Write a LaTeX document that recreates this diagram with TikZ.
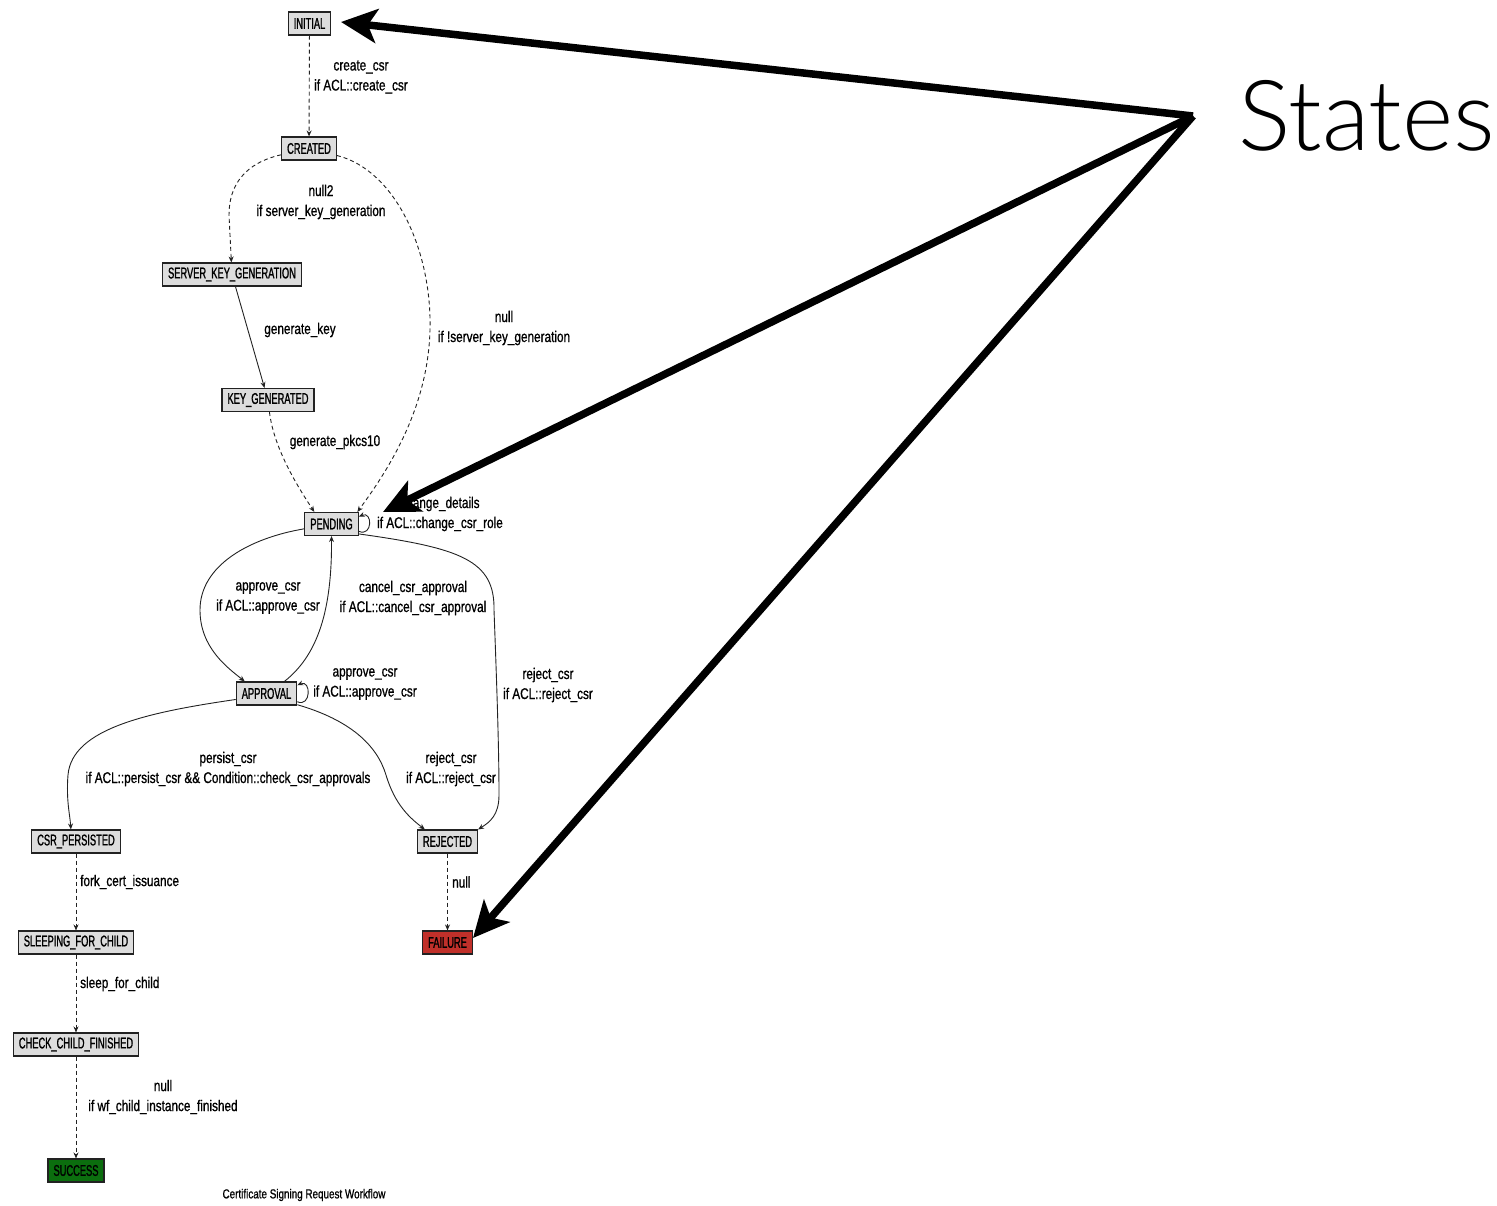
\documentclass[tikz,border=0pt]{standalone}
\usepackage{fontspec}
\setmainfont{Liberation Sans}
\newfontfamily\statefont{Liberation Sans}[FakeStretch=0.6, FakeBold=1.2]
\newfontfamily\edgefont{Liberation Sans}[FakeStretch=0.76, FakeBold=0.9]
\newfontfamily\bigfont{Lato Light}
\usetikzlibrary{arrows.meta}

\definecolor{statefill}{HTML}{DDDDDD}
\definecolor{failred}{HTML}{C0302A}
\definecolor{okgreen}{HTML}{0B6E0E}
\definecolor{inkgray}{HTML}{222222}

\tikzset{
  wfstate/.style={draw=inkgray, fill=statefill, line width=1.1pt,
    minimum height=23pt, inner xsep=5.5pt, inner ysep=0pt,
    font=\statefont\fontsize{15.5}{18}\selectfont, text=black},
  edgelabel/.style={align=center, inner sep=0pt, text=black,
    font=\edgefont\fontsize{15.5}{20}\selectfont},
  tr/.style={-{Stealth[length=6pt,width=5pt]}, line width=0.9pt, draw=inkgray},
  dashtr/.style={tr, dash pattern=on 4pt off 3pt},
  pointer/.style={line width=7.5pt, draw=black,
    -{Stealth[length=36pt,width=34pt,inset=9pt]}}
}

\begin{document}
\begin{tikzpicture}[x=1pt, y=-1pt]
\useasboundingbox (0,0) rectangle (1497,1206);

% workflow states
\node[wfstate] (initial)    at (309.5,23.5)  {INITIAL};
\node[wfstate] (created)    at (309,148.5)   {CREATED};
\node[wfstate] (skg)        at (232,274.5)   {SERVER\_KEY\_GENERATION};
\node[wfstate] (keygen)     at (268,400)     {KEY\_GENERATED};
\node[wfstate] (pending)    at (331.5,524)   {PENDING};
\node[wfstate] (approval)   at (266.5,693.5) {APPROVAL};
\node[wfstate] (persisted)  at (76,841.5)    {CSR\_PERSISTED};
\node[wfstate] (rejected)   at (447.5,841.5) {REJECTED};
\node[wfstate] (sleeping)   at (76,942.5)    {SLEEPING\_FOR\_CHILD};
\node[wfstate, fill=failred] (failure) at (447.5,942.5) {FAILURE};
\node[wfstate] (checkchild) at (76,1044.5)   {CHECK\_CHILD\_FINISHED};
\node[wfstate, fill=okgreen] (success) at (76,1170.5) {SUCCESS};

% transitions
\draw[dashtr] (initial) -- (created);
\draw[dashtr] (created) .. controls (245,163) and (229,185) .. (229,215) -- (skg);
\draw[dashtr] (created) .. controls (395,170) and (432,250) .. (430,330)
               .. controls (428,405) and (392,465) .. (pending.25);
\draw[tr] (skg) -- (keygen);
\draw[dashtr] (keygen) .. controls (274,450) and (300,490) .. (pending.145);
\draw[tr] (pending.-15) .. controls +(14,6) and +(14,-6) .. (pending.15);
\draw[tr] (pending.190) .. controls (250,538) and (200,565) .. (200,610)
           .. controls (200,648) and (228,668) .. (approval.151);
\draw[tr] (approval.34) .. controls (318,655) and (332,610) .. (pending.south);
\draw[tr] (pending.-20) .. controls (460,548) and (495,560) .. (494,610)
           .. controls (497,690) and (499,750) .. (499,795)
           .. controls (499,815) and (490,822) .. (rejected.north east);
\draw[tr] (approval.-15) .. controls +(14,6) and +(14,-6) .. (approval.15);
\draw[tr] (approval.191) .. controls (150,712) and (72,728) .. (68,775)
           .. controls (66,800) and (70,815) .. (persisted.113);
\draw[tr] (approval.-20) .. controls (350,720) and (377,745) .. (386,775)
           .. controls (395,805) and (410,818) .. (rejected.152);
\draw[dashtr] (persisted) -- (sleeping);
\draw[dashtr] (rejected) -- (failure);
\draw[dashtr] (sleeping) -- (checkchild);
\draw[dashtr] (checkchild) -- (success);

% transition labels
\node[edgelabel] (lcreate)  at (361,77)  {create\_csr\\if ACL::create\_csr};
\node[edgelabel] (lnulltwo) at (321,202) {null2\\if server\_key\_generation};
\node[edgelabel] (lnullskg) at (504,328) {null\\if !server\_key\_generation};
\node[edgelabel] (lgenkey)  at (300,330) {generate\_key};
\node[edgelabel] (lpkcs)    at (335,442) {generate\_pkcs10};
\node[edgelabel] (lchange)  at (440,514) {change\_details\\if ACL::change\_csr\_role};
\node[edgelabel] (lapprove) at (268,598) {approve\_csr\\if ACL::approve\_csr};
\node[edgelabel] (lcancel)  at (413,598) {cancel\_csr\_approval\\if ACL::cancel\_csr\_approval};
\node[edgelabel] (lrejectp) at (548,685) {reject\_csr\\if ACL::reject\_csr};
\node[edgelabel] (lapprself) at (365,684) {approve\_csr\\if ACL::approve\_csr};
\node[edgelabel] (lpersist) at (228,769) {persist\_csr\\if ACL::persist\_csr \&\& Condition::check\_csr\_approvals};
\node[edgelabel] (lrejecta) at (451,769) {reject\_csr\\if ACL::reject\_csr};
\node[edgelabel, anchor=west] (lfork)  at (80,882)  {fork\_cert\_issuance};
\node[edgelabel, anchor=west] (lfail)  at (452,882) {null};
\node[edgelabel, anchor=west] (lsleep) at (80,984)  {sleep\_for\_child};
\node[edgelabel] (lchild)   at (163,1097) {null\\if wf\_child\_instance\_finished};
\node[edgelabel, font=\edgefont\fontsize{13}{15}\selectfont] (caption) at (304,1195)
  {Certificate Signing Request Workflow};

% callout arrows
\coordinate (hub)     at (1193,116);
\coordinate (tipinit) at (341,22);
\coordinate (tippend) at (383,512);
\coordinate (tipfail) at (473,938);
\draw[pointer] (hub) -- (tipinit);
\draw[pointer] (hub) -- (tippend);
\draw[pointer] (hub) -- (tipfail);
\node[anchor=base west, inner sep=0pt, font=\bigfont\fontsize{98}{100}\selectfont]
  (states) at (1238,151) {States};
\end{tikzpicture}
\end{document}
